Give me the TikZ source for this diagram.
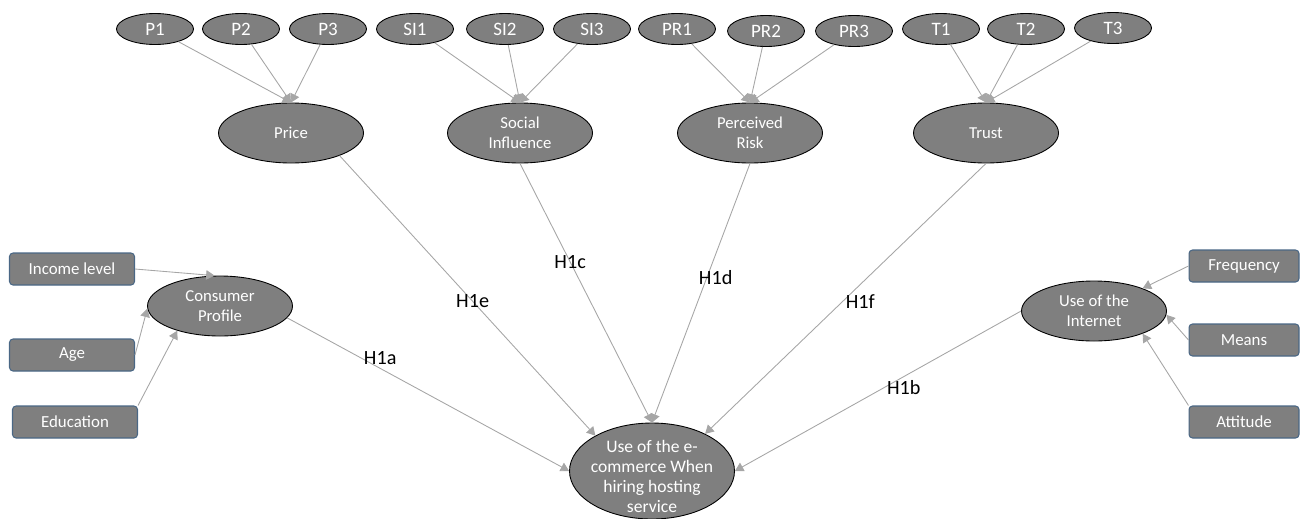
\documentclass[tikz,border=0pt]{standalone}
\usepackage{fontspec}
\setmainfont{Carlito}
\usetikzlibrary{arrows.meta,shapes.geometric}
\definecolor{shade}{HTML}{7F7F7F}
\definecolor{edge}{HTML}{A6A6A6}
\definecolor{frame}{HTML}{4A6785}

\begin{document}
\begin{tikzpicture}[x=0.02cm, y=-0.02cm,
  item/.style={ellipse, draw=black, fill=shade, text=white, line width=0.5pt, minimum width=1.54cm, minimum height=0.62cm, inner sep=0pt, font=\fontsize{10.8}{12}\selectfont},
  construct/.style={ellipse, draw=black, fill=shade, text=white, align=center, line width=0.5pt, minimum width=2.9cm, minimum height=1.2cm, inner sep=0pt, font=\fontsize{9.5}{11.3}\selectfont},
  factor/.style={rectangle, rounded corners=2pt, draw=frame, fill=shade, text=white, line width=0.6pt, minimum width=2.5cm, minimum height=0.64cm, font=\fontsize{9.6}{11}\selectfont},
  arr/.style={-{Triangle[length=1.7mm, width=1.9mm]}, draw=edge, line width=0.5pt},
  hyp/.style={font=\fontsize{11.5}{13}\selectfont, text=black, inner sep=1pt},
]
\useasboundingbox (0,0) rectangle (1300,518);

% indicators
\node[item] (P1) at (155,29) {P1};
\node[item] (P2) at (241,29) {P2};
\node[item] (P3) at (328,29) {P3};
\node[item] (SI1) at (415,29) {SI1};
\node[item] (SI2) at (505,29) {SI2};
\node[item] (SI3) at (592,29) {SI3};
\node[item] (PR1) at (677,29) {PR1};
\node[item] (PR2) at (766,31) {PR2};
\node[item] (PR3) at (854,31) {PR3};
\node[item] (T1) at (941,29) {T1};
\node[item] (T2) at (1026,29) {T2};
\node[item] (T3) at (1113,28) {T3};

% constructs
\node[construct] (price) at (291,133) {Price};
\node[construct] (social) at (520,133) {Social\\Influence};
\node[construct] (risk) at (750,133) {Perceived\\Risk};
\node[construct] (trust) at (986,133) {Trust};
\node[construct] (consumer) at (220,306) {Consumer\\Profile};
\node[construct] (internet) at (1094,311) {Use of the\\Internet};
\node[construct, minimum width=3.3cm, minimum height=1.92cm,
  label={[text=white, align=center, yshift=-3pt, font=\fontsize{10}{11.5}\selectfont]center:Use of the e-\\commerce When\\hiring hosting\\service}] (ecom) at (652,471) {};

% profile and internet factors
\node[factor] (income) at (72,269) {Income level};
\node[factor] (age) at (72,355) {Age};
\node[factor] (education) at (75,422) {Education};
\node[factor, minimum width=2.2cm] (frequency) at (1244,266) {Frequency};
\node[factor, minimum width=2.2cm] (means) at (1244,340) {Means};
\node[factor, minimum width=2.2cm] (attitude) at (1244,422) {Attitude};

\foreach \i in {1,2,3} {
  \draw[arr] (P\i) -- (price.north);
  \draw[arr] (SI\i) -- (social.north);
  \draw[arr] (PR\i) -- (risk.north);
  \draw[arr] (T\i) -- (trust.north);
}

\draw[arr] (income.east) -- (consumer.100);
\draw[arr] (age.east) -- (consumer.182);
\draw[arr] (education.north east) -- (consumer.210);
\draw[arr] (frequency.west) -- (internet.25);
\draw[arr] (means.west) -- (internet.-3);
\draw[arr] (attitude.north west) -- (internet.-25);

% hypotheses
\draw[arr] (price.-25) -- node[hyp, pos=0.52] {H1e} (ecom.148);
\draw[arr] (social.south) -- node[hyp, pos=0.38] {H1c} (ecom.north);
\draw[arr] (risk.south) -- node[hyp, pos=0.44, xshift=5pt] {H1d} (ecom.north);
\draw[arr] (trust.south) -- node[hyp, pos=0.51, xshift=10pt] {H1f} (ecom.35);
\draw[arr] (consumer.-10) -- node[hyp, pos=0.33, yshift=6pt] {H1a} (ecom.west);
\draw[arr] (internet.west) -- node[hyp, pos=0.41, yshift=-6pt] {H1b} (ecom.east);
\end{tikzpicture}
\end{document}
